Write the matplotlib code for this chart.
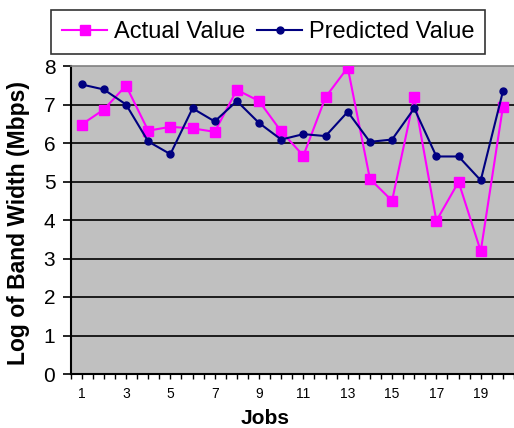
import matplotlib
matplotlib.use("Agg")
import matplotlib.pyplot as plt
import numpy as np

jobs = list(range(1, 21))
actual = [6.48, 6.87, 7.49, 6.32, 6.42, 6.38, 6.29, 7.38, 7.09, 6.30,
          5.67, 7.19, 7.96, 5.07, 4.50, 7.19, 3.98, 4.99, 3.19, 6.94]
predicted = [7.52, 7.39, 7.00, 6.04, 5.71, 6.90, 6.56, 7.09, 6.52, 6.09,
             6.23, 6.18, 6.81, 6.03, 6.09, 6.90, 5.65, 5.65, 5.03, 7.34]
y_ticks = [0, 1, 2, 3, 4, 5, 6, 7, 8]
x_labels = [str(i) if i % 2 == 1 else "" for i in jobs]

plt.rcParams['font.family'] = ['Liberation Sans', 'DejaVu Sans']

fig = plt.figure(figsize=(5.14, 4.28), dpi=100)
ax = fig.add_axes([70.6 / 514, 1 - 374 / 428, 1 - 70.6 / 514, (374 - 66) / 428])
ax.set_facecolor('#C0C0C0')

ax.plot(jobs, actual, color='#FF00FF', lw=1.5, marker='s', ms=7.5,
        mec='#FF00FF', mfc='#FF00FF', label='Actual Value', zorder=3)
ax.plot(jobs, predicted, color='#000080', lw=1.5, marker='o', ms=5,
        mec='#000080', mfc='#000080', label='Predicted Value', zorder=4)

ax.set_xlim(0.5, 20.5)
ax.set_ylim(0, 8)
ax.set_yticks(y_ticks)
ax.set_yticklabels([str(v) for v in y_ticks], fontsize=15)
for v in y_ticks[1:-1]:
    ax.axhline(v, color='black', lw=1.2, zorder=1)

ax.set_xticks(jobs)
ax.set_xticklabels(x_labels, fontsize=10)
ax.set_xticks(np.arange(0.5, 20.6, 1.0), minor=True)
ax.tick_params(axis='x', which='both', direction='out', length=3.5, width=1, pad=6)
ax.tick_params(axis='y', direction='out', length=6, width=1.2, pad=5)

for s in ['left', 'bottom']:
    ax.spines[s].set_color('black')
    ax.spines[s].set_linewidth(1.5)
ax.spines['top'].set_color('#808080')
ax.spines['top'].set_linewidth(1.2)
ax.spines['right'].set_visible(False)

ax.set_ylabel('Log of Band Width (Mbps)', fontsize=16.5, fontweight='bold')
ax.yaxis.set_label_coords((30 - 70.6) / 443.4, 0.49)
ax.set_xlabel('Jobs', fontsize=15, fontweight='bold')
ax.xaxis.set_label_coords((264.7 - 70.6) / 443.4, -(409 - 374) / 308)

leg = fig.legend(loc='center', bbox_to_anchor=(0.522, 0.925), ncol=2,
                 fontsize=17, frameon=True, fancybox=False, edgecolor='black',
                 handlelength=1.9, handletextpad=0.3, columnspacing=0.5,
                 borderpad=0.45, borderaxespad=0)
leg.get_frame().set_linewidth(1.2)

fig.savefig('out.png', dpi=100)
